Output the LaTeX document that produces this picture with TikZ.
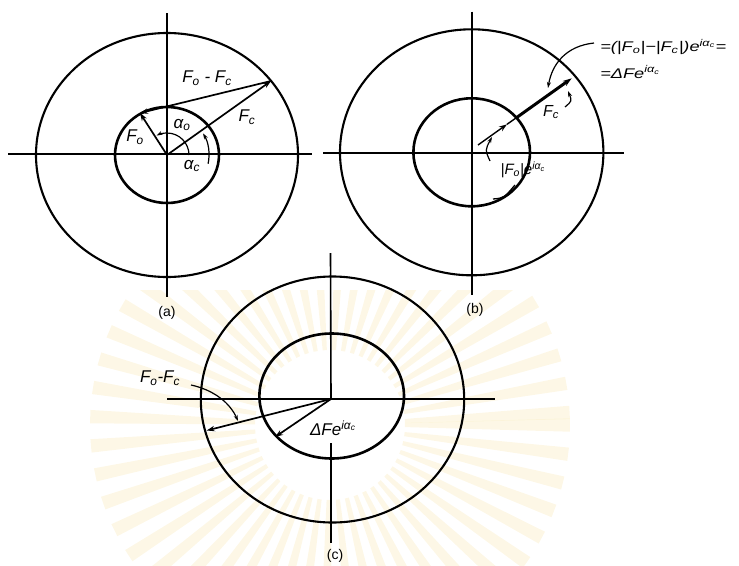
\documentclass[tikz,border=0pt]{standalone}
\usepackage{fontspec}
\setmainfont{Liberation Sans}
\usetikzlibrary{arrows.meta}
\newcommand\myFo{F\textsubscript{\textit{o}}}
\newcommand\myFc{F\textsubscript{\textit{c}}}
\newcommand\myeia{e\textsuperscript{\textit{i}α\textsubscript{\textit{c}}}}
\definecolor{wmk}{RGB}{250,238,200}
\tikzset{
  ax/.style={line width=1.6pt},
  outerc/.style={line width=2.1pt},
  innerc/.style={line width=2.6pt},
  tipst/.style={-{Stealth[length=8pt,width=5.5pt]}},
  vec/.style={line width=1.7pt,tipst},
  thinarr/.style={line width=1.2pt,-{Stealth[length=6pt,width=4pt]}},
  lbl/.style={font=\fontsize{17}{17}\selectfont\itshape,inner sep=0pt},
  slbl/.style={font=\fontsize{14}{14}\selectfont\itshape,inner sep=0pt},
  captxt/.style={font=\fontsize{14}{14}\selectfont,inner sep=0pt},
}
\begin{document}
\begin{tikzpicture}[x=1pt,y=-1pt]
\useasboundingbox (0,0) rectangle (739,565);
% faint watermark rays
\begin{scope}
\clip (0,290) rectangle (739,565);
\foreach \a in {0,7,...,357}
  \fill[wmk,opacity=0.45,shift={(330,425)}] (\a-1.6:75) -- (\a-1.6:240) -- (\a+1.6:240) -- (\a+1.6:75) -- cycle;
\end{scope}

% ================= panel (a)
\coordinate (ca) at (167,155);
\draw[outerc] (ca) ellipse [x radius=131, y radius=122];
\draw[innerc] (ca) ellipse [x radius=52, y radius=48];
\coordinate (aL) at (8,154); \coordinate (aR) at (312,154);
\coordinate (aT) at (167,13); \coordinate (aB) at (167,297);
\draw[ax] (aL) -- (aR);
\draw[ax] (aT) -- (aB);
\coordinate (aFc) at (271,81);
\coordinate (aFo) at (140,113);
\draw[vec] (ca) -- (aFc);
\draw[vec] (ca) -- (aFo);
\draw[vec] (aFc) -- (aFo);
\draw[thinarr] ([shift={(22,0)}]ca) arc[start angle=0,end angle=-118,radius=22];
\draw[thinarr] ([shift={(12:42)}]ca) arc[start angle=12,end angle=-31,radius=42];
\node[lbl] (aDiff) at (207,78) {\myFo\ - \myFc};
\node[lbl] (aFcl) at (247,117) {\myFc};
\node[lbl] (aFol) at (135,137) {\myFo};
\node[lbl] (aao) at (182,125) {α\textsubscript{\textit{o}}};
\node[lbl] (aac) at (192,166) {α\textsubscript{\textit{c}}};
\node[captxt] (acap) at (167,313) {(a)};

% ================= panel (b)
\coordinate (cb) at (471.7,152.3);
\draw[outerc] (cb) ellipse [x radius=131.7, y radius=123];
\draw[innerc] (cb) ellipse [x radius=58.3, y radius=54];
\coordinate (bL) at (323,152.7); \coordinate (bR) at (624,152.7);
\coordinate (bT) at (471.7,11.7); \coordinate (bB) at (471.7,295);
\draw[ax] (bL) -- (bR);
\draw[ax] (bT) -- (bB);
\coordinate (bs) at (478,145);
\coordinate (bm) at (507,124.3);
\coordinate (bi) at (516.4,117.7);
\coordinate (bt) at (571.7,78.3);
\draw[line width=1.4pt,-{Stealth[length=8pt,width=5.5pt]}] (bs) -- (bm);
\draw[line width=1.4pt] (bm) -- (bi);
\draw[line width=3pt,-{Stealth[length=9pt,width=6pt]}] (bi) -- (bt);
\coordinate (bc1) at (565,107); \coordinate (bc2) at (568,91);
\draw[thinarr] (bc1) .. controls (572,101) .. (bc2);
\coordinate (bs1) at (490,161); \coordinate (bs2) at (492,137);
\draw[thinarr] (bs1) .. controls (485,150) .. (bs2);
\coordinate (bu1) at (493,199); \coordinate (bu2) at (515,185);
\draw[line width=1.3pt] (bu1) .. controls (504,198) .. (bu2);
\coordinate (bl1) at (594,43); \coordinate (bl2) at (548,88);
\draw[thinarr] (bl1) .. controls (566,46) and (552,64) .. (bl2);
\node[slbl,anchor=west,xscale=1.3] (bq1) at (600,47) {=(|\myFo|−|\myFc|)\myeia=};
\node[slbl,anchor=west,xscale=1.3] (bq2) at (600,72) {=Δ\textit{F}\myeia};
\node[lbl,font=\fontsize{16}{16}\selectfont\itshape] (bFc) at (551,112) {\myFc};
\node[slbl,font=\fontsize{15}{15}\selectfont\itshape] (bFo) at (523,170) {|\myFo|\myeia};
\node[captxt] (bcap) at (475,310) {(b)};

% ================= panel (c)
\coordinate (cc) at (332.5,399.5);
\coordinate (cci) at (331.7,396);
\draw[outerc] (cc) ellipse [x radius=131.7, y radius=123];
\draw[innerc] (cci) ellipse [x radius=72.3, y radius=62.5];
\coordinate (cL) at (167,399); \coordinate (cR) at (495,399);
\coordinate (cT) at (330.5,253); \coordinate (cO) at (331,399);
\coordinate (cB1) at (331,443); \coordinate (cB) at (331,543);
\draw[ax] (cL) -- (cR);
\draw[ax] (cT) -- (cO);
\draw[ax] (cB1) -- (cB);
\coordinate (cD) at (275,437);
\coordinate (cF) at (206.7,430.5);
\draw[vec] (cO) -- (cD);
\draw[vec] (cO) -- (cF);
\node[lbl] (cFl) at (160,378) {\myFo-\myFc};
\coordinate (cl1) at (191,385); \coordinate (cl2) at (238,421);
\draw[thinarr] (cl1) .. controls (214,390) and (230,403) .. (cl2);
\node[lbl] (cDl) at (333,428) {Δ\textit{F}\myeia};
\node[captxt] (ccap) at (335,556) {(c)};
\end{tikzpicture}
\end{document}
